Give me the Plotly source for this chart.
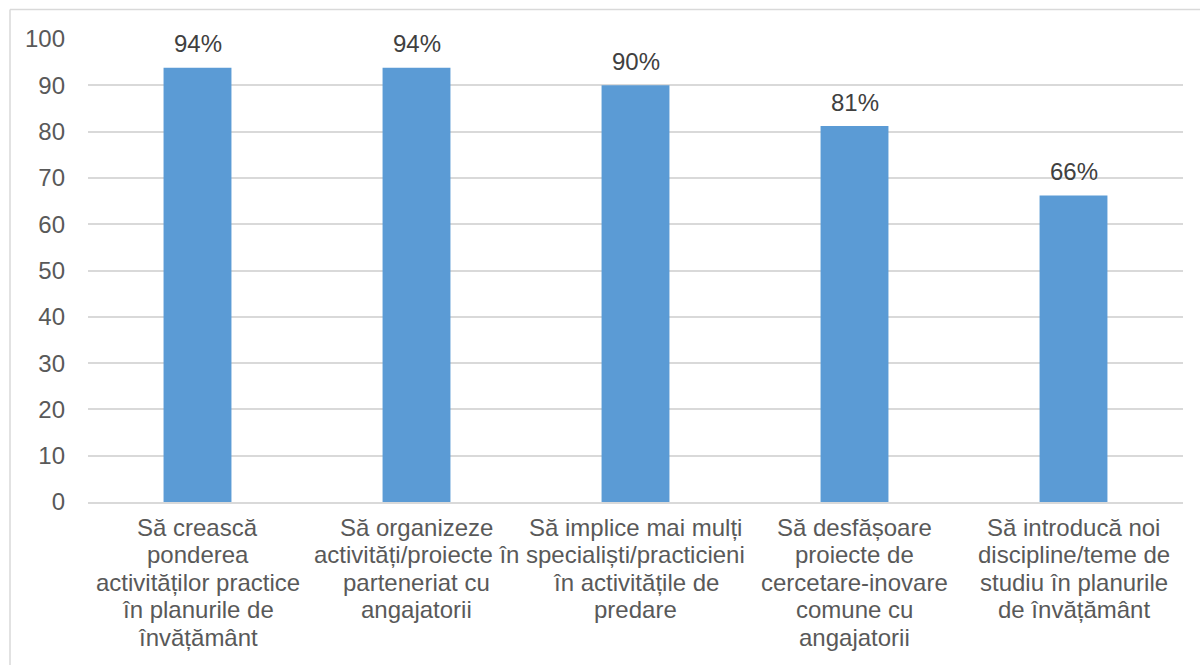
import plotly.graph_objects as go

category_lines = [
    ["Să crească", "ponderea", "activităților practice", "în planurile de", "învățământ"],
    ["Să organizeze", "activități/proiecte în", "parteneriat cu", "angajatorii"],
    ["Să implice mai mulți", "specialiști/practicieni", "în activitățile de", "predare"],
    ["Să desfășoare", "proiecte de", "cercetare-inovare", "comune cu", "angajatorii"],
    ["Să introducă noi", "discipline/teme de", "studiu în planurile", "de învățământ"],
]
categories = [" ".join(c) for c in category_lines]
values = [93.8, 93.8, 90.0, 81.2, 66.2]
labels = ["94%", "94%", "90%", "81%", "66%"]
y_ticks = [0, 10, 20, 30, 40, 50, 60, 70, 80, 90, 100]

W, H = 1200, 665
L, R, T, B = 88, 17, 39, 163
pw, ph = W - L - R, H - T - B
FONT = "Liberation Sans, Arial"
FS = 24
LINE = 27.4

fig = go.Figure(go.Bar(
    x=categories, y=values,
    marker=dict(color="#5B9BD5", line=dict(width=0)),
    hoverinfo="skip",
))

annotations = []
for cat, val, lab in zip(categories, values, labels):
    annotations.append(dict(x=cat, y=val, xref="x", yref="y", text=lab, showarrow=False,
                            yanchor="middle", yshift=24,
                            font=dict(family=FONT, size=FS, color="#404040")))
for cat, lines in zip(categories, category_lines):
    for j, line in enumerate(lines):
        annotations.append(dict(x=cat, y=0, xref="x", yref="y", text=line, showarrow=False,
                                yanchor="middle", yshift=-(25.5 + j * LINE),
                                font=dict(family=FONT, size=FS, color="#595959")))

def px_x(x):
    return (x - L) / pw

def px_y(y):
    return (H - B - y) / ph

fig.update_layout(
    width=W, height=H,
    margin=dict(l=L, r=R, t=T, b=B),
    paper_bgcolor="white", plot_bgcolor="white",
    bargap=0.69,
    showlegend=False,
    font=dict(family=FONT, color="#595959", size=FS),
    xaxis=dict(showgrid=False, showline=True, linecolor="#D9D9D9", linewidth=2,
               ticks="", showticklabels=False),
    yaxis=dict(range=[0, 100], tickvals=y_ticks, showgrid=True, gridcolor="#D9D9D9",
               gridwidth=2, zeroline=False, showline=False, ticks="",
               tickfont=dict(size=FS, color="#595959"), ticklabelstandoff=22),
    annotations=annotations,
    shapes=[
        dict(type="line", xref="paper", yref="paper", x0=px_x(10), x1=px_x(1200),
             y0=px_y(9.5), y1=px_y(9.5), line=dict(color="#D9D9D9", width=1.5)),
        dict(type="line", xref="paper", yref="paper", x0=px_x(10), x1=px_x(10),
             y0=px_y(9.5), y1=px_y(665), line=dict(color="#D9D9D9", width=1.5)),
    ],
)

fig.write_html("out.html", config={"displayModeBar": False},
               post_script="document.body.style.margin='0px';")
